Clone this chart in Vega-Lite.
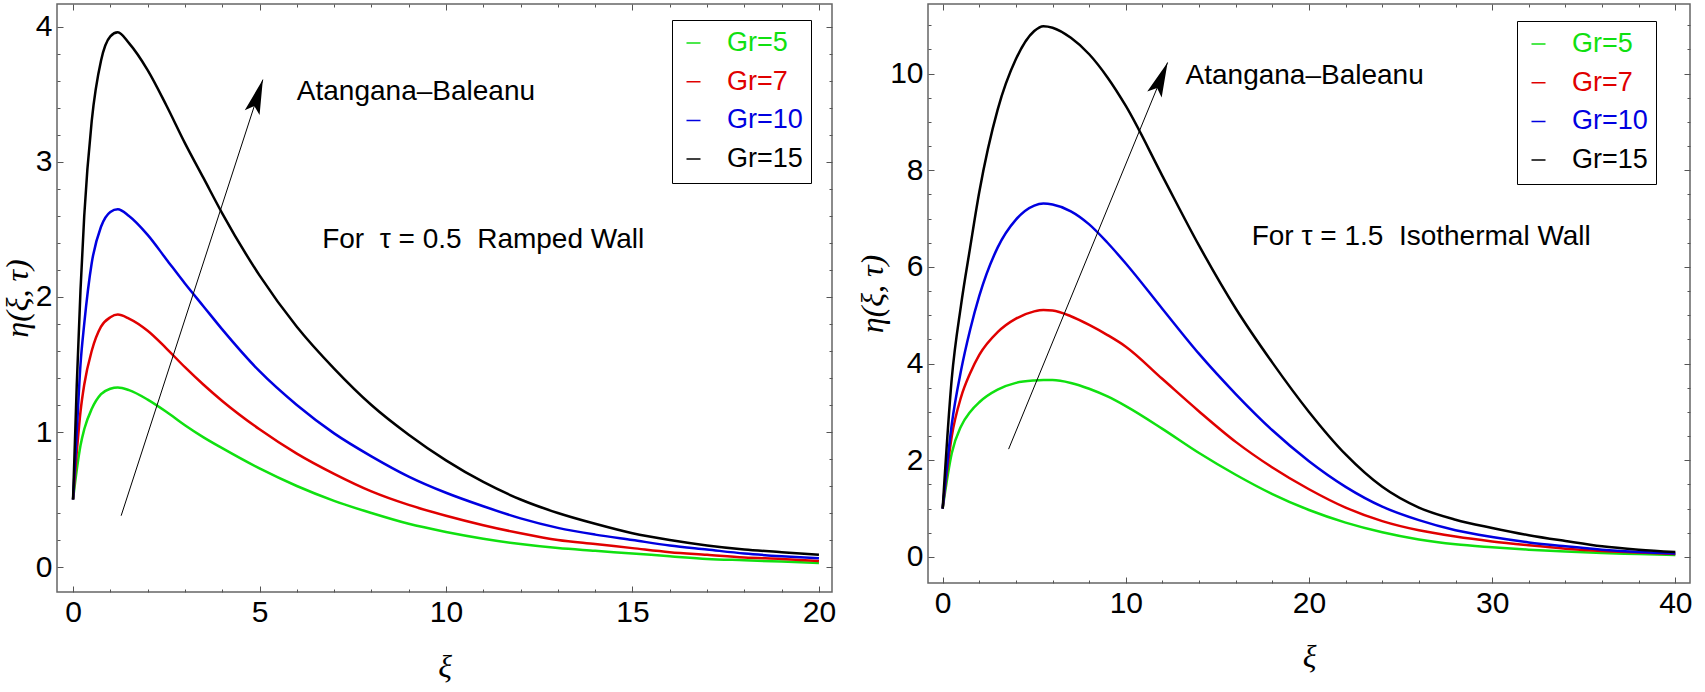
{
  "$schema": "https://vega.github.io/schema/vega-lite/v6.json",
  "description": "Velocity profiles eta(xi, tau) for several Grashof numbers, ramped wall (left) and isothermal wall (right).",
  "background": "white",
  "autosize": {"type": "none"},
  "padding": {"left": 57, "top": 4, "right": 1648, "bottom": 688},
  "config": {
    "view": {"stroke": "#666666", "strokeWidth": 1.5},
    "font": "Liberation Sans",
    "axis": {
      "grid": false,
      "domain": false,
      "tickColor": "#555555",
      "tickWidth": 1,
      "labelFont": "Liberation Sans",
      "labelFontSize": 30,
      "labelColor": "black",
      "labelFlush": false,
      "labelOverlap": false,
      "labelBound": false,
      "titleFont": "Liberation Serif",
      "titleFontStyle": "italic",
      "titleFontWeight": "normal",
      "titleFontSize": 32,
      "titleColor": "black"
    },
    "legend": {
      "orient": "none",
      "title": null,
      "symbolType": "stroke",
      "symbolSize": 196,
      "symbolStrokeWidth": 1.5,
      "labelFont": "Liberation Sans",
      "labelFontSize": 27,
      "labelOffset": 20,
      "labelLimit": 300,
      "clipHeight": 30,
      "rowPadding": 8.7,
      "padding": 8,
      "strokeColor": "black",
      "fillColor": "white"
    },
    "text": {"font": "Liberation Sans", "fontSize": 28, "color": "black"}
  },
  "datasets": {
    "left": [
      {"xi": 0, "eta": 0.5, "gr": "Gr=5"}, {"xi": 0.1, "eta": 0.72, "gr": "Gr=5"}, {"xi": 0.2, "eta": 0.9, "gr": "Gr=5"}, {"xi": 0.3, "eta": 1.02, "gr": "Gr=5"}, {"xi": 0.5, "eta": 1.17, "gr": "Gr=5"}, {"xi": 0.75, "eta": 1.28, "gr": "Gr=5"}, {"xi": 1, "eta": 1.32, "gr": "Gr=5"}, {"xi": 1.2, "eta": 1.33, "gr": "Gr=5"}, {"xi": 1.5, "eta": 1.31, "gr": "Gr=5"}, {"xi": 2, "eta": 1.24, "gr": "Gr=5"}, {"xi": 2.5, "eta": 1.15, "gr": "Gr=5"}, {"xi": 3, "eta": 1.05, "gr": "Gr=5"}, {"xi": 3.5, "eta": 0.96, "gr": "Gr=5"}, {"xi": 4, "eta": 0.88, "gr": "Gr=5"}, {"xi": 5, "eta": 0.73, "gr": "Gr=5"}, {"xi": 6, "eta": 0.6, "gr": "Gr=5"}, {"xi": 7, "eta": 0.49, "gr": "Gr=5"}, {"xi": 8, "eta": 0.4, "gr": "Gr=5"}, {"xi": 9, "eta": 0.32, "gr": "Gr=5"}, {"xi": 10, "eta": 0.26, "gr": "Gr=5"}, {"xi": 11, "eta": 0.21, "gr": "Gr=5"}, {"xi": 12, "eta": 0.17, "gr": "Gr=5"}, {"xi": 13, "eta": 0.14, "gr": "Gr=5"}, {"xi": 14, "eta": 0.12, "gr": "Gr=5"}, {"xi": 15, "eta": 0.1, "gr": "Gr=5"}, {"xi": 16, "eta": 0.08, "gr": "Gr=5"}, {"xi": 17, "eta": 0.06, "gr": "Gr=5"}, {"xi": 18, "eta": 0.05, "gr": "Gr=5"}, {"xi": 19, "eta": 0.04, "gr": "Gr=5"}, {"xi": 20, "eta": 0.03, "gr": "Gr=5"},
      {"xi": 0, "eta": 0.5, "gr": "Gr=7"}, {"xi": 0.1, "eta": 0.85, "gr": "Gr=7"}, {"xi": 0.2, "eta": 1.15, "gr": "Gr=7"}, {"xi": 0.3, "eta": 1.35, "gr": "Gr=7"}, {"xi": 0.5, "eta": 1.6, "gr": "Gr=7"}, {"xi": 0.75, "eta": 1.78, "gr": "Gr=7"}, {"xi": 1, "eta": 1.85, "gr": "Gr=7"}, {"xi": 1.2, "eta": 1.87, "gr": "Gr=7"}, {"xi": 1.5, "eta": 1.84, "gr": "Gr=7"}, {"xi": 2, "eta": 1.75, "gr": "Gr=7"}, {"xi": 2.5, "eta": 1.62, "gr": "Gr=7"}, {"xi": 3, "eta": 1.48, "gr": "Gr=7"}, {"xi": 3.5, "eta": 1.35, "gr": "Gr=7"}, {"xi": 4, "eta": 1.23, "gr": "Gr=7"}, {"xi": 5, "eta": 1.02, "gr": "Gr=7"}, {"xi": 6, "eta": 0.84, "gr": "Gr=7"}, {"xi": 7, "eta": 0.69, "gr": "Gr=7"}, {"xi": 8, "eta": 0.56, "gr": "Gr=7"}, {"xi": 9, "eta": 0.46, "gr": "Gr=7"}, {"xi": 10, "eta": 0.38, "gr": "Gr=7"}, {"xi": 11, "eta": 0.31, "gr": "Gr=7"}, {"xi": 12, "eta": 0.25, "gr": "Gr=7"}, {"xi": 13, "eta": 0.2, "gr": "Gr=7"}, {"xi": 14, "eta": 0.17, "gr": "Gr=7"}, {"xi": 15, "eta": 0.14, "gr": "Gr=7"}, {"xi": 16, "eta": 0.11, "gr": "Gr=7"}, {"xi": 17, "eta": 0.09, "gr": "Gr=7"}, {"xi": 18, "eta": 0.07, "gr": "Gr=7"}, {"xi": 19, "eta": 0.06, "gr": "Gr=7"}, {"xi": 20, "eta": 0.045, "gr": "Gr=7"},
      {"xi": 0, "eta": 0.5, "gr": "Gr=10"}, {"xi": 0.1, "eta": 1.0, "gr": "Gr=10"}, {"xi": 0.2, "eta": 1.5, "gr": "Gr=10"}, {"xi": 0.3, "eta": 1.8, "gr": "Gr=10"}, {"xi": 0.5, "eta": 2.25, "gr": "Gr=10"}, {"xi": 0.75, "eta": 2.52, "gr": "Gr=10"}, {"xi": 1, "eta": 2.63, "gr": "Gr=10"}, {"xi": 1.2, "eta": 2.65, "gr": "Gr=10"}, {"xi": 1.5, "eta": 2.6, "gr": "Gr=10"}, {"xi": 2, "eta": 2.46, "gr": "Gr=10"}, {"xi": 2.5, "eta": 2.28, "gr": "Gr=10"}, {"xi": 3, "eta": 2.1, "gr": "Gr=10"}, {"xi": 3.5, "eta": 1.93, "gr": "Gr=10"}, {"xi": 4, "eta": 1.76, "gr": "Gr=10"}, {"xi": 5, "eta": 1.45, "gr": "Gr=10"}, {"xi": 6, "eta": 1.2, "gr": "Gr=10"}, {"xi": 7, "eta": 0.99, "gr": "Gr=10"}, {"xi": 8, "eta": 0.82, "gr": "Gr=10"}, {"xi": 9, "eta": 0.67, "gr": "Gr=10"}, {"xi": 10, "eta": 0.55, "gr": "Gr=10"}, {"xi": 11, "eta": 0.45, "gr": "Gr=10"}, {"xi": 12, "eta": 0.36, "gr": "Gr=10"}, {"xi": 13, "eta": 0.29, "gr": "Gr=10"}, {"xi": 14, "eta": 0.24, "gr": "Gr=10"}, {"xi": 15, "eta": 0.2, "gr": "Gr=10"}, {"xi": 16, "eta": 0.16, "gr": "Gr=10"}, {"xi": 17, "eta": 0.13, "gr": "Gr=10"}, {"xi": 18, "eta": 0.1, "gr": "Gr=10"}, {"xi": 19, "eta": 0.08, "gr": "Gr=10"}, {"xi": 20, "eta": 0.065, "gr": "Gr=10"},
      {"xi": 0, "eta": 0.5, "gr": "Gr=15"}, {"xi": 0.1, "eta": 1.35, "gr": "Gr=15"}, {"xi": 0.2, "eta": 2.05, "gr": "Gr=15"}, {"xi": 0.3, "eta": 2.6, "gr": "Gr=15"}, {"xi": 0.5, "eta": 3.3, "gr": "Gr=15"}, {"xi": 0.75, "eta": 3.75, "gr": "Gr=15"}, {"xi": 1, "eta": 3.93, "gr": "Gr=15"}, {"xi": 1.2, "eta": 3.96, "gr": "Gr=15"}, {"xi": 1.5, "eta": 3.88, "gr": "Gr=15"}, {"xi": 2, "eta": 3.68, "gr": "Gr=15"}, {"xi": 2.5, "eta": 3.42, "gr": "Gr=15"}, {"xi": 3, "eta": 3.14, "gr": "Gr=15"}, {"xi": 3.5, "eta": 2.88, "gr": "Gr=15"}, {"xi": 4, "eta": 2.62, "gr": "Gr=15"}, {"xi": 5, "eta": 2.16, "gr": "Gr=15"}, {"xi": 6, "eta": 1.78, "gr": "Gr=15"}, {"xi": 7, "eta": 1.47, "gr": "Gr=15"}, {"xi": 8, "eta": 1.2, "gr": "Gr=15"}, {"xi": 9, "eta": 0.98, "gr": "Gr=15"}, {"xi": 10, "eta": 0.79, "gr": "Gr=15"}, {"xi": 11, "eta": 0.63, "gr": "Gr=15"}, {"xi": 12, "eta": 0.5, "gr": "Gr=15"}, {"xi": 13, "eta": 0.4, "gr": "Gr=15"}, {"xi": 14, "eta": 0.32, "gr": "Gr=15"}, {"xi": 15, "eta": 0.25, "gr": "Gr=15"}, {"xi": 16, "eta": 0.2, "gr": "Gr=15"}, {"xi": 17, "eta": 0.16, "gr": "Gr=15"}, {"xi": 18, "eta": 0.13, "gr": "Gr=15"}, {"xi": 19, "eta": 0.11, "gr": "Gr=15"}, {"xi": 20, "eta": 0.09, "gr": "Gr=15"}
    ],
    "right": [
      {"xi": 0, "eta": 1.0, "gr": "Gr=5"}, {"xi": 0.5, "eta": 2.15, "gr": "Gr=5"}, {"xi": 1, "eta": 2.7, "gr": "Gr=5"}, {"xi": 1.5, "eta": 3.0, "gr": "Gr=5"}, {"xi": 2, "eta": 3.2, "gr": "Gr=5"}, {"xi": 3, "eta": 3.46, "gr": "Gr=5"}, {"xi": 4, "eta": 3.6, "gr": "Gr=5"}, {"xi": 5, "eta": 3.65, "gr": "Gr=5"}, {"xi": 5.5, "eta": 3.66, "gr": "Gr=5"}, {"xi": 6, "eta": 3.66, "gr": "Gr=5"}, {"xi": 7, "eta": 3.6, "gr": "Gr=5"}, {"xi": 8, "eta": 3.48, "gr": "Gr=5"}, {"xi": 9, "eta": 3.32, "gr": "Gr=5"}, {"xi": 10, "eta": 3.12, "gr": "Gr=5"}, {"xi": 12, "eta": 2.65, "gr": "Gr=5"}, {"xi": 14, "eta": 2.15, "gr": "Gr=5"}, {"xi": 16, "eta": 1.7, "gr": "Gr=5"}, {"xi": 18, "eta": 1.3, "gr": "Gr=5"}, {"xi": 20, "eta": 0.97, "gr": "Gr=5"}, {"xi": 22, "eta": 0.71, "gr": "Gr=5"}, {"xi": 24, "eta": 0.51, "gr": "Gr=5"}, {"xi": 26, "eta": 0.36, "gr": "Gr=5"}, {"xi": 28, "eta": 0.26, "gr": "Gr=5"}, {"xi": 30, "eta": 0.2, "gr": "Gr=5"}, {"xi": 32, "eta": 0.15, "gr": "Gr=5"}, {"xi": 34, "eta": 0.11, "gr": "Gr=5"}, {"xi": 36, "eta": 0.08, "gr": "Gr=5"}, {"xi": 38, "eta": 0.06, "gr": "Gr=5"}, {"xi": 40, "eta": 0.04, "gr": "Gr=5"},
      {"xi": 0, "eta": 1.0, "gr": "Gr=7"}, {"xi": 0.5, "eta": 2.5, "gr": "Gr=7"}, {"xi": 1, "eta": 3.3, "gr": "Gr=7"}, {"xi": 1.5, "eta": 3.8, "gr": "Gr=7"}, {"xi": 2, "eta": 4.18, "gr": "Gr=7"}, {"xi": 3, "eta": 4.65, "gr": "Gr=7"}, {"xi": 4, "eta": 4.93, "gr": "Gr=7"}, {"xi": 5, "eta": 5.08, "gr": "Gr=7"}, {"xi": 5.5, "eta": 5.11, "gr": "Gr=7"}, {"xi": 6, "eta": 5.1, "gr": "Gr=7"}, {"xi": 7, "eta": 4.98, "gr": "Gr=7"}, {"xi": 8, "eta": 4.8, "gr": "Gr=7"}, {"xi": 9, "eta": 4.59, "gr": "Gr=7"}, {"xi": 10, "eta": 4.35, "gr": "Gr=7"}, {"xi": 12, "eta": 3.68, "gr": "Gr=7"}, {"xi": 14, "eta": 3.01, "gr": "Gr=7"}, {"xi": 16, "eta": 2.38, "gr": "Gr=7"}, {"xi": 18, "eta": 1.85, "gr": "Gr=7"}, {"xi": 20, "eta": 1.4, "gr": "Gr=7"}, {"xi": 22, "eta": 1.02, "gr": "Gr=7"}, {"xi": 24, "eta": 0.74, "gr": "Gr=7"}, {"xi": 26, "eta": 0.55, "gr": "Gr=7"}, {"xi": 28, "eta": 0.42, "gr": "Gr=7"}, {"xi": 30, "eta": 0.32, "gr": "Gr=7"}, {"xi": 32, "eta": 0.24, "gr": "Gr=7"}, {"xi": 34, "eta": 0.17, "gr": "Gr=7"}, {"xi": 36, "eta": 0.12, "gr": "Gr=7"}, {"xi": 38, "eta": 0.09, "gr": "Gr=7"}, {"xi": 40, "eta": 0.06, "gr": "Gr=7"},
      {"xi": 0, "eta": 1.0, "gr": "Gr=10"}, {"xi": 0.5, "eta": 2.75, "gr": "Gr=10"}, {"xi": 1, "eta": 3.85, "gr": "Gr=10"}, {"xi": 1.5, "eta": 4.7, "gr": "Gr=10"}, {"xi": 2, "eta": 5.4, "gr": "Gr=10"}, {"xi": 3, "eta": 6.4, "gr": "Gr=10"}, {"xi": 4, "eta": 6.98, "gr": "Gr=10"}, {"xi": 5, "eta": 7.27, "gr": "Gr=10"}, {"xi": 5.5, "eta": 7.31, "gr": "Gr=10"}, {"xi": 6, "eta": 7.29, "gr": "Gr=10"}, {"xi": 7, "eta": 7.15, "gr": "Gr=10"}, {"xi": 8, "eta": 6.88, "gr": "Gr=10"}, {"xi": 9, "eta": 6.5, "gr": "Gr=10"}, {"xi": 10, "eta": 6.07, "gr": "Gr=10"}, {"xi": 12, "eta": 5.13, "gr": "Gr=10"}, {"xi": 14, "eta": 4.2, "gr": "Gr=10"}, {"xi": 16, "eta": 3.37, "gr": "Gr=10"}, {"xi": 18, "eta": 2.62, "gr": "Gr=10"}, {"xi": 20, "eta": 1.98, "gr": "Gr=10"}, {"xi": 22, "eta": 1.45, "gr": "Gr=10"}, {"xi": 24, "eta": 1.04, "gr": "Gr=10"}, {"xi": 26, "eta": 0.76, "gr": "Gr=10"}, {"xi": 28, "eta": 0.55, "gr": "Gr=10"}, {"xi": 30, "eta": 0.41, "gr": "Gr=10"}, {"xi": 32, "eta": 0.3, "gr": "Gr=10"}, {"xi": 34, "eta": 0.22, "gr": "Gr=10"}, {"xi": 36, "eta": 0.15, "gr": "Gr=10"}, {"xi": 38, "eta": 0.1, "gr": "Gr=10"}, {"xi": 40, "eta": 0.07, "gr": "Gr=10"},
      {"xi": 0, "eta": 1.0, "gr": "Gr=15"}, {"xi": 0.5, "eta": 3.7, "gr": "Gr=15"}, {"xi": 1, "eta": 5.2, "gr": "Gr=15"}, {"xi": 1.5, "eta": 6.4, "gr": "Gr=15"}, {"xi": 2, "eta": 7.55, "gr": "Gr=15"}, {"xi": 3, "eta": 9.25, "gr": "Gr=15"}, {"xi": 4, "eta": 10.3, "gr": "Gr=15"}, {"xi": 5, "eta": 10.88, "gr": "Gr=15"}, {"xi": 5.5, "eta": 10.98, "gr": "Gr=15"}, {"xi": 6, "eta": 10.95, "gr": "Gr=15"}, {"xi": 7, "eta": 10.74, "gr": "Gr=15"}, {"xi": 8, "eta": 10.4, "gr": "Gr=15"}, {"xi": 9, "eta": 9.92, "gr": "Gr=15"}, {"xi": 10, "eta": 9.33, "gr": "Gr=15"}, {"xi": 12, "eta": 7.88, "gr": "Gr=15"}, {"xi": 14, "eta": 6.44, "gr": "Gr=15"}, {"xi": 16, "eta": 5.14, "gr": "Gr=15"}, {"xi": 18, "eta": 4.02, "gr": "Gr=15"}, {"xi": 20, "eta": 3.0, "gr": "Gr=15"}, {"xi": 22, "eta": 2.12, "gr": "Gr=15"}, {"xi": 24, "eta": 1.45, "gr": "Gr=15"}, {"xi": 26, "eta": 1.02, "gr": "Gr=15"}, {"xi": 28, "eta": 0.77, "gr": "Gr=15"}, {"xi": 30, "eta": 0.6, "gr": "Gr=15"}, {"xi": 32, "eta": 0.45, "gr": "Gr=15"}, {"xi": 34, "eta": 0.33, "gr": "Gr=15"}, {"xi": 36, "eta": 0.22, "gr": "Gr=15"}, {"xi": 38, "eta": 0.15, "gr": "Gr=15"}, {"xi": 40, "eta": 0.1, "gr": "Gr=15"}
    ]
  },
  "hconcat": [
    {
      "width": 775,
      "height": 588,
      "resolve": {"axis": {"x": "independent", "y": "independent"}},
      "layer": [
        {
          "data": {"name": "left"},
          "mark": {"type": "line", "strokeWidth": 2.5, "interpolate": "monotone"},
          "encoding": {
            "x": {
              "field": "xi", "type": "quantitative",
              "scale": {"domain": [-0.43, 20.35], "nice": false, "zero": false},
              "axis": {
                "orient": "bottom",
                "values": [0, 1, 2, 3, 4, 5, 6, 7, 8, 9, 10, 11, 12, 13, 14, 15, 16, 17, 18, 19, 20],
                "tickSize": {"condition": {"test": "datum.value % 5 === 0", "value": -6}, "value": -3},
                "labelExpr": "datum.value % 5 === 0 ? format(datum.value, 'd') : ''",
                "labelPadding": 11,
                "title": "ξ",
                "titleX": 387.5, "titleY": 74, "titleAlign": "center", "titleBaseline": "middle"
              }
            },
            "y": {
              "field": "eta", "type": "quantitative",
              "scale": {"domain": [-0.185, 4.17], "nice": false, "zero": false},
              "axis": {
                "orient": "left",
                "values": [0, 0.2, 0.4, 0.6, 0.8, 1, 1.2, 1.4, 1.6, 1.8, 2, 2.2, 2.4, 2.6, 2.8, 3, 3.2, 3.4, 3.6, 3.8, 4],
                "tickSize": {"condition": {"test": "datum.value % 1 === 0", "value": -6}, "value": -3},
                "labelExpr": "datum.value % 1 === 0 ? format(datum.value, 'd') : ''",
                "labelPadding": 11,
                "title": "η(ξ, τ)",
                "titleX": -40, "titleY": 294, "titleAngle": -90, "titleAlign": "center", "titleBaseline": "middle"
              }
            },
            "color": {
              "field": "gr", "type": "nominal",
              "scale": {"domain": ["Gr=5", "Gr=7", "Gr=10", "Gr=15"], "range": ["#10e010", "#e00000", "#0000e0", "#000000"]},
              "legend": {
                "legendX": 615, "legendY": 16,
                "encode": {"labels": {"update": {"fill": {"signal": "datum.value === 'Gr=5' ? '#10e010' : datum.value === 'Gr=7' ? '#e00000' : datum.value === 'Gr=10' ? '#0000e0' : '#000000'"}}}}
              }
            }
          }
        },
        {
          "data": {"values": [{"x1": 1.29, "y1": 0.38, "x2": 5.09, "y2": 3.61}]},
          "mark": {"type": "rule", "color": "black", "strokeWidth": 1},
          "encoding": {
            "x": {
              "field": "x1", "type": "quantitative",
              "scale": {"domain": [-0.43, 20.35], "nice": false, "zero": false},
              "axis": {
                "orient": "top", "labels": false, "title": null,
                "values": [0, 1, 2, 3, 4, 5, 6, 7, 8, 9, 10, 11, 12, 13, 14, 15, 16, 17, 18, 19, 20],
                "tickSize": {"condition": {"test": "datum.value % 5 === 0", "value": -6}, "value": -3}
              }
            },
            "y": {
              "field": "y1", "type": "quantitative",
              "scale": {"domain": [-0.185, 4.17], "nice": false, "zero": false},
              "axis": {
                "orient": "right", "labels": false, "title": null,
                "values": [0, 0.2, 0.4, 0.6, 0.8, 1, 1.2, 1.4, 1.6, 1.8, 2, 2.2, 2.4, 2.6, 2.8, 3, 3.2, 3.4, 3.6, 3.8, 4],
                "tickSize": {"condition": {"test": "datum.value % 1 === 0", "value": -6}, "value": -3}
              }
            },
            "x2": {"field": "x2"},
            "y2": {"field": "y2"}
          }
        },
        {
          "data": {"values": [{"x": 5.09, "y": 3.61}]},
          "mark": {"type": "point", "shape": "M0,0L0.45,2L0,1.6L-0.45,2Z", "size": 1200, "filled": true, "color": "black", "opacity": 1, "angle": 18},
          "encoding": {
            "x": {"field": "x", "type": "quantitative", "scale": {"domain": [-0.43, 20.35], "nice": false, "zero": false}, "axis": null},
            "y": {"field": "y", "type": "quantitative", "scale": {"domain": [-0.185, 4.17], "nice": false, "zero": false}, "axis": null}
          }
        },
        {
          "data": {"values": [
            {"x": 6.0, "y": 3.52, "label": "Atangana–Baleanu"},
            {"x": 6.68, "y": 2.42, "label": "For\u00a0 τ = 0.5\u00a0 Ramped Wall"}
          ]},
          "mark": {"type": "text", "align": "left", "baseline": "middle"},
          "encoding": {
            "x": {"field": "x", "type": "quantitative", "scale": {"domain": [-0.43, 20.35], "nice": false, "zero": false}, "axis": null},
            "y": {"field": "y", "type": "quantitative", "scale": {"domain": [-0.185, 4.17], "nice": false, "zero": false}, "axis": null},
            "text": {"field": "label"}
          }
        }
      ]
    },
    {
      "width": 762,
      "height": 579,
      "resolve": {"axis": {"x": "independent", "y": "independent"}},
      "layer": [
        {
          "data": {"name": "right"},
          "mark": {"type": "line", "strokeWidth": 2.5, "interpolate": "monotone"},
          "encoding": {
            "x": {
              "field": "xi", "type": "quantitative",
              "scale": {"domain": [-0.8, 40.8], "nice": false, "zero": false},
              "axis": {
                "orient": "bottom",
                "values": [0, 2, 4, 6, 8, 10, 12, 14, 16, 18, 20, 22, 24, 26, 28, 30, 32, 34, 36, 38, 40],
                "tickSize": {"condition": {"test": "datum.value % 10 === 0", "value": -6}, "value": -3},
                "labelExpr": "datum.value % 10 === 0 ? format(datum.value, 'd') : ''",
                "labelPadding": 11,
                "title": "ξ",
                "titleX": 381, "titleY": 73, "titleAlign": "center", "titleBaseline": "middle"
              }
            },
            "y": {
              "field": "eta", "type": "quantitative",
              "scale": {"domain": [-0.54, 11.44], "nice": false, "zero": false},
              "axis": {
                "orient": "left",
                "values": [0, 0.5, 1, 1.5, 2, 2.5, 3, 3.5, 4, 4.5, 5, 5.5, 6, 6.5, 7, 7.5, 8, 8.5, 9, 9.5, 10, 10.5, 11],
                "tickSize": {"condition": {"test": "datum.value % 2 === 0", "value": -6}, "value": -3},
                "labelExpr": "datum.value % 2 === 0 ? format(datum.value, 'd') : ''",
                "labelPadding": 11,
                "title": "η(ξ, τ)",
                "titleX": -56, "titleY": 289.5, "titleAngle": -90, "titleAlign": "center", "titleBaseline": "middle"
              }
            },
            "color": {
              "field": "gr", "type": "nominal",
              "scale": {"domain": ["Gr=5", "Gr=7", "Gr=10", "Gr=15"], "range": ["#10e010", "#e00000", "#0000e0", "#000000"]},
              "legend": {
                "legendX": 589, "legendY": 17,
                "encode": {"labels": {"update": {"fill": {"signal": "datum.value === 'Gr=5' ? '#10e010' : datum.value === 'Gr=7' ? '#e00000' : datum.value === 'Gr=10' ? '#0000e0' : '#000000'"}}}}
              }
            }
          }
        },
        {
          "data": {"values": [{"x1": 3.6, "y1": 2.23, "x2": 12.28, "y2": 10.23}]},
          "mark": {"type": "rule", "color": "black", "strokeWidth": 1},
          "encoding": {
            "x": {
              "field": "x1", "type": "quantitative",
              "scale": {"domain": [-0.8, 40.8], "nice": false, "zero": false},
              "axis": {
                "orient": "top", "labels": false, "title": null,
                "values": [0, 2, 4, 6, 8, 10, 12, 14, 16, 18, 20, 22, 24, 26, 28, 30, 32, 34, 36, 38, 40],
                "tickSize": {"condition": {"test": "datum.value % 10 === 0", "value": -6}, "value": -3}
              }
            },
            "y": {
              "field": "y1", "type": "quantitative",
              "scale": {"domain": [-0.54, 11.44], "nice": false, "zero": false},
              "axis": {
                "orient": "right", "labels": false, "title": null,
                "values": [0, 0.5, 1, 1.5, 2, 2.5, 3, 3.5, 4, 4.5, 5, 5.5, 6, 6.5, 7, 7.5, 8, 8.5, 9, 9.5, 10, 10.5, 11],
                "tickSize": {"condition": {"test": "datum.value % 2 === 0", "value": -6}, "value": -3}
              }
            },
            "x2": {"field": "x2"},
            "y2": {"field": "y2"}
          }
        },
        {
          "data": {"values": [{"x": 12.28, "y": 10.23}]},
          "mark": {"type": "point", "shape": "M0,0L0.45,2L0,1.6L-0.45,2Z", "size": 1200, "filled": true, "color": "black", "opacity": 1, "angle": 22.3},
          "encoding": {
            "x": {"field": "x", "type": "quantitative", "scale": {"domain": [-0.8, 40.8], "nice": false, "zero": false}, "axis": null},
            "y": {"field": "y", "type": "quantitative", "scale": {"domain": [-0.54, 11.44], "nice": false, "zero": false}, "axis": null}
          }
        },
        {
          "data": {"values": [
            {"x": 13.26, "y": 9.96, "label": "Atangana–Baleanu"},
            {"x": 16.87, "y": 6.62, "label": "For τ = 1.5\u00a0 Isothermal Wall"}
          ]},
          "mark": {"type": "text", "align": "left", "baseline": "middle"},
          "encoding": {
            "x": {"field": "x", "type": "quantitative", "scale": {"domain": [-0.8, 40.8], "nice": false, "zero": false}, "axis": null},
            "y": {"field": "y", "type": "quantitative", "scale": {"domain": [-0.54, 11.44], "nice": false, "zero": false}, "axis": null},
            "text": {"field": "label"}
          }
        }
      ]
    }
  ],
  "spacing": 96,
  "bounds": "flush",
  "resolve": {"scale": {"color": "independent"}, "legend": {"color": "independent"}}
}
